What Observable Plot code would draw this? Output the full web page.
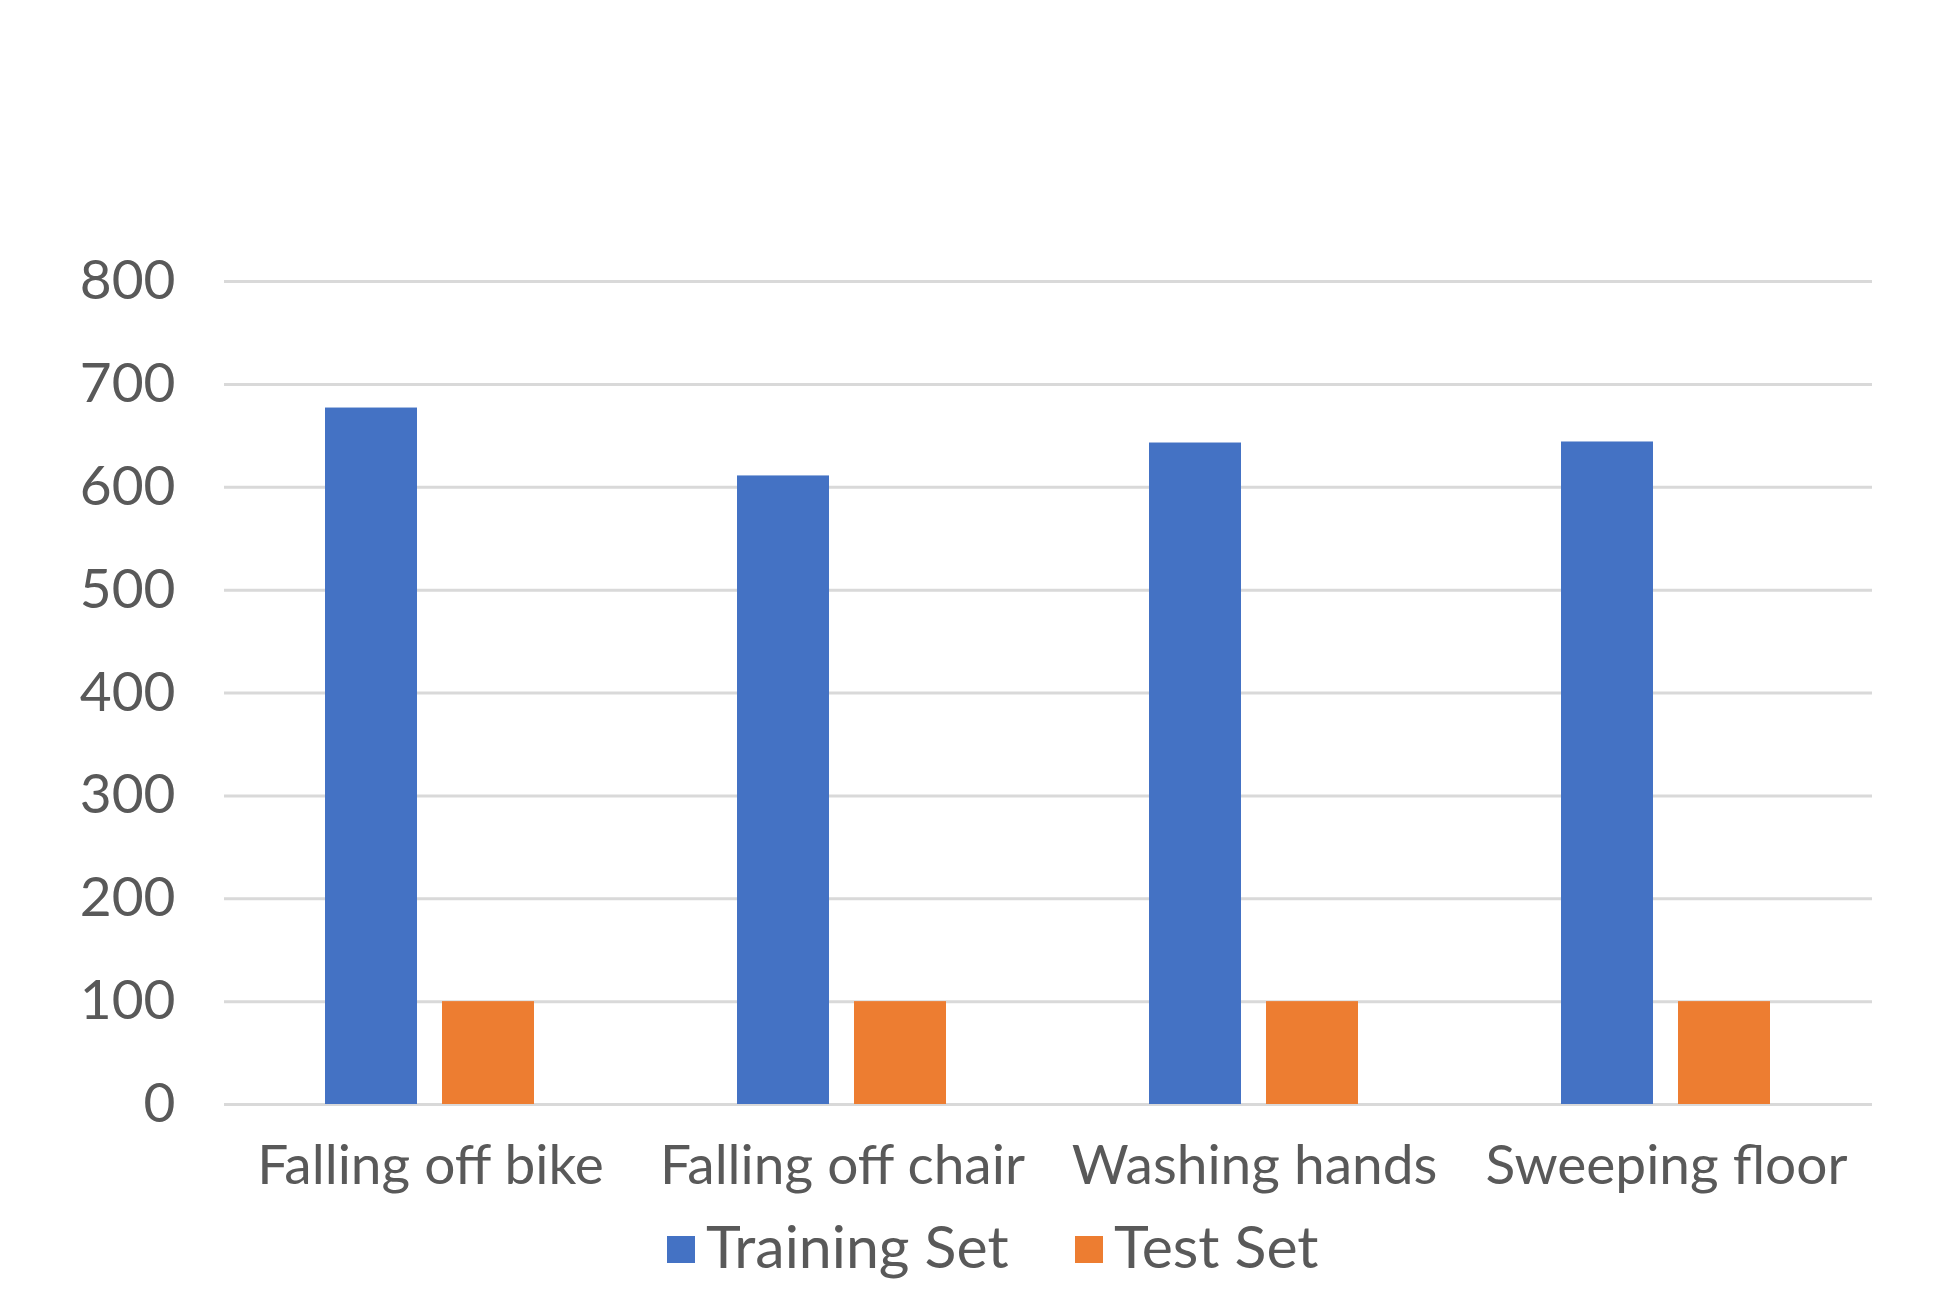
<!DOCTYPE html>
<html>
<head>
<meta charset="utf-8">
<script src="https://cdn.jsdelivr.net/npm/d3@7"></script>
<script src="https://cdn.jsdelivr.net/npm/@observablehq/plot@0.6"></script>
<style>
  html, body { margin: 0; padding: 0; background: #ffffff; }
  #wrap { position: relative; width: 1938px; height: 1301px; overflow: hidden; font-family: Lato, sans-serif; color: #595959; }
  #legend { position: absolute; top: 1216px; left: 0; width: 1938px; height: 85px; }
  .item { position: absolute; top: 0; display: flex; align-items: flex-start; }
  .swatch { width: 28px; height: 27px; margin-top: 20px; margin-right: 11px; }
  .label { font-size: 59px; line-height: 59px; white-space: nowrap; }
</style>
</head>
<body>
<div id="wrap">
  <div id="chart"></div>
  <div id="legend"></div>
</div>
<script>
const categories = ["Falling off bike", "Falling off chair", "Washing hands", "Sweeping floor"];
const seriesNames = ["Training Set", "Test Set"];
const trainingValues = [677, 611, 643, 644];
const testValues = [100, 100, 100, 100];
const yTicks = [0, 100, 200, 300, 400, 500, 600, 700, 800];
const seriesColors = ["#4472C4", "#ED7D31"];

const data = categories.flatMap((c, i) => [
  {category: c, series: seriesNames[0], value: trainingValues[i]},
  {category: c, series: seriesNames[1], value: testValues[i]}
]);

const chart = Plot.plot({
  width: 1938,
  height: 1200,
  marginLeft: 222,
  marginRight: 65,
  marginTop: 281,
  marginBottom: 96,
  style: {fontFamily: "Lato, sans-serif", color: "#595959", background: "#ffffff", overflow: "visible"},
  fx: {domain: categories, padding: 0, label: null},
  x: {domain: seriesNames, paddingInner: 0.212, paddingOuter: 0.855, axis: null},
  y: {domain: [0, 800], label: null},
  color: {domain: seriesNames, range: seriesColors},
  marks: [
    Plot.gridY(yTicks, {stroke: "#d9d9d9", strokeOpacity: 1, strokeWidth: 3}),
    Plot.barY(data, {fx: "category", x: "series", y: "value", fill: "series"}),
    Plot.axisY(yTicks, {tickSize: 0, tickPadding: 49, fontSize: 55, label: null, fill: "#595959"}),
    Plot.axisFx({anchor: "bottom", tickSize: 0, tickPadding: 40, fontSize: 55, label: null, fill: "#595959"})
  ]
});
document.getElementById("chart").appendChild(chart);

const legendLefts = [667, 1075];
const legend = document.getElementById("legend");
seriesNames.forEach((name, i) => {
  const item = document.createElement("div");
  item.className = "item";
  item.style.left = legendLefts[i] + "px";
  const sw = document.createElement("div");
  sw.className = "swatch";
  sw.style.background = seriesColors[i];
  const lab = document.createElement("span");
  lab.className = "label";
  lab.textContent = name;
  item.appendChild(sw);
  item.appendChild(lab);
  legend.appendChild(item);
});
</script>
</body>
</html>
